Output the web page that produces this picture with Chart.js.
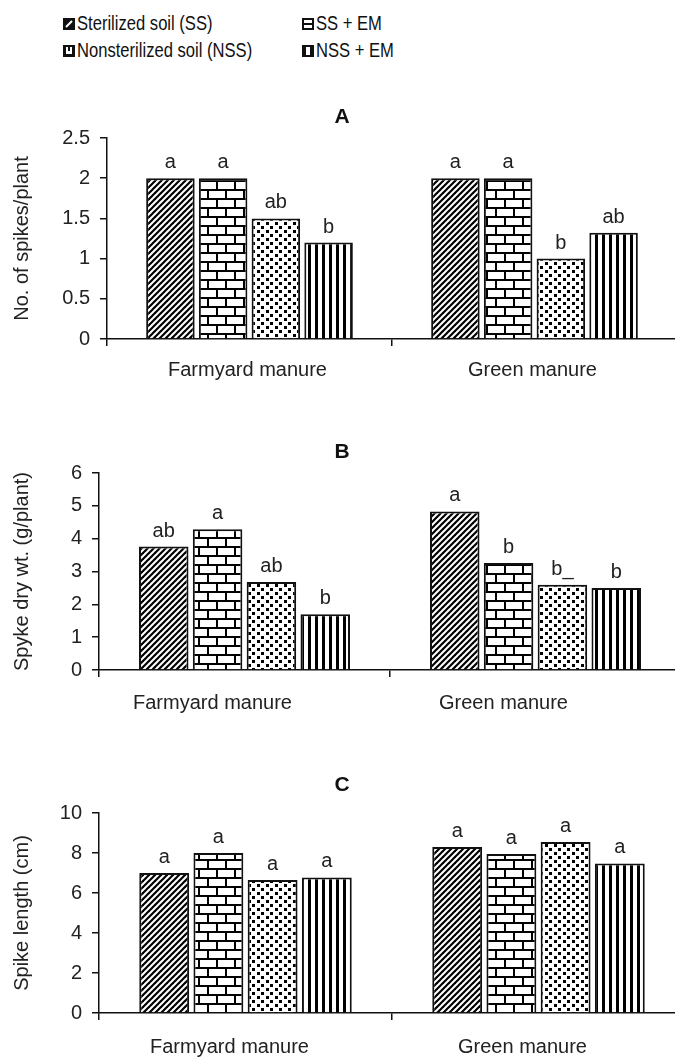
<!DOCTYPE html>
<html>
<head>
<meta charset="utf-8">
<script src="https://cdn.jsdelivr.net/npm/chart.js@4.4.1/dist/chart.umd.min.js"></script>
<style>
  html, body { margin: 0; padding: 0; background: #fff; width: 675px; height: 1057px; overflow: hidden; position: relative; }
  canvas { position: absolute; left: 0; }
  #legend { position: absolute; left: 63px; top: 10px; font: 21px "Liberation Sans", Arial, sans-serif; color: #111; }
  .item { position: absolute; white-space: nowrap; height: 26px; line-height: 26px; }
  .item canvas { position: static; vertical-align: 0px; margin-right: 2px; }
  .item span { display: inline-block; transform: scaleX(0.79); transform-origin: left center; }
</style>
</head>
<body>
<div id="legend"></div>
<canvas id="chartA" width="690" height="300" style="top:90px"></canvas>
<canvas id="chartB" width="690" height="300" style="top:420px"></canvas>
<canvas id="chartC" width="690" height="297" style="top:760px"></canvas>
<script>
var groups = ["Farmyard manure", "Green manure"];
var treatments = ["Sterilized soil (SS)", "SS + EM", "Nonsterilized soil (NSS)", "NSS + EM"];

// A - no. of spikes per plant
var spikesSS = [2.0, 2.0];
var spikesSSEM = [2.0, 2.0];
var spikesNSS = [1.5, 1.0];
var spikesNSSEM = [1.2, 1.32];
var spikesLetters = [["a", "a"], ["a", "a"], ["ab", "b"], ["b", "ab"]];
var spikesTicks = [0, 0.5, 1, 1.5, 2, 2.5];

// B - spike dry weight
var dryWtSS = [3.76, 4.83];
var dryWtSSEM = [4.29, 3.26];
var dryWtNSS = [2.68, 2.6];
var dryWtNSSEM = [1.7, 2.5];
var dryWtLetters = [["ab", "a"], ["a", "b"], ["ab", "b_"], ["b", "b"]];
var dryWtTicks = [0, 1, 2, 3, 4, 5, 6];

// C - spike length
var lengthSS = [7.0, 8.3];
var lengthSSEM = [8.0, 7.95];
var lengthNSS = [6.65, 8.55];
var lengthNSSEM = [6.78, 7.48];
var lengthLetters = [["a", "a"], ["a", "a"], ["a", "a"], ["a", "a"]];
var lengthTicks = [0, 2, 4, 6, 8, 10];

var FONT = '"Liberation Sans", Arial, sans-serif';
Chart.defaults.font.family = FONT;
Chart.defaults.color = '#222';

function makePattern(kind) {
  var c = document.createElement('canvas');
  var g = c.getContext('2d');
  if (kind == 'diag') {
    c.width = 6; c.height = 6;
    g.fillStyle = '#fff'; g.fillRect(0, 0, 6, 6);
    g.strokeStyle = '#000'; g.lineWidth = 2.2;
    [[0, 6, 6, 0], [-2, 2, 2, -2], [4, 8, 8, 4]].forEach(function (l) {
      g.beginPath(); g.moveTo(l[0], l[1]); g.lineTo(l[2], l[3]); g.stroke();
    });
  } else if (kind == 'brick') {
    c.width = 18; c.height = 18;
    g.fillStyle = '#fff'; g.fillRect(0, 0, 18, 18);
    g.fillStyle = '#000';
    g.fillRect(0, 0, 18, 2); g.fillRect(0, 9, 18, 2);
    g.fillRect(0, 0, 2, 9); g.fillRect(9, 9, 2, 9);
  } else if (kind == 'dots') {
    c.width = 9; c.height = 8;
    g.fillStyle = '#fff'; g.fillRect(0, 0, 9, 8);
    g.fillStyle = '#000';
    g.fillRect(0, 0, 3, 3); g.fillRect(5, 4, 3, 3);
  } else {
    c.width = 7; c.height = 7;
    g.fillStyle = '#fff'; g.fillRect(0, 0, 7, 7);
    g.fillStyle = '#000'; g.fillRect(0, 0, 3, 7);
  }
  return g.createPattern(c, 'repeat');
}
var kinds = ['diag', 'brick', 'dots', 'vert'];
var fills = kinds.map(makePattern);

// legend (2 x 2)
function icon(kind) {
  var c = document.createElement('canvas');
  c.width = 12; c.height = 12;
  var g = c.getContext('2d');
  g.fillStyle = '#111'; g.fillRect(0, 0, 12, 12);
  g.fillStyle = '#fff'; g.strokeStyle = '#fff';
  if (kind == 'diag') {
    g.lineWidth = 2; g.beginPath(); g.moveTo(3, 9); g.lineTo(9, 3); g.stroke();
  } else if (kind == 'brick') {
    g.fillRect(2, 2, 8, 3); g.fillRect(2, 7, 8, 3);
  } else if (kind == 'dots') {
    g.fillRect(3, 2, 6, 7); g.fillStyle = '#111'; g.fillRect(5, 2, 2, 4);
  } else {
    g.fillRect(4, 2, 4, 8);
  }
  return c;
}
var legend = document.getElementById('legend');
treatments.forEach(function (t, i) {
  var d = document.createElement('div');
  d.className = 'item';
  d.style.left = (i % 2 ? 239 : 0) + 'px';
  d.style.top = (i < 2 ? 0 : 27) + 'px';
  d.appendChild(icon(kinds[i]));
  var s = document.createElement('span');
  s.textContent = t;
  d.appendChild(s);
  legend.appendChild(d);
});

var annot = {
  id: 'annot',
  afterDatasetsDraw: function (chart, args, opts) {
    var ctx = chart.ctx;
    ctx.save();
    ctx.fillStyle = '#222';
    ctx.textAlign = 'center';
    ctx.textBaseline = 'alphabetic';
    ctx.font = '20px ' + FONT;
    opts.letters.forEach(function (arr, di) {
      chart.getDatasetMeta(di).data.forEach(function (bar, i) {
        ctx.fillText(arr[i], bar.x, bar.y - 10);
      });
    });
    ctx.fillStyle = '#111';
    ctx.textBaseline = 'middle';
    ctx.font = 'bold 21px ' + FONT;
    ctx.fillText(opts.panel, 342, opts.panelY);
    ctx.restore();
  }
};

function panel(id, series, letters, ticks, yTitle, cfg) {
  return new Chart(document.getElementById(id), {
    type: 'bar',
    data: {
      labels: groups,
      datasets: series.map(function (s, i) {
        return {
          label: treatments[i], data: s,
          backgroundColor: fills[i], borderColor: '#111', borderWidth: 2,
          categoryPercentage: 0.74, barPercentage: 0.92
        };
      })
    },
    options: {
      responsive: false, animation: false,
      layout: { padding: { top: cfg.top, right: cfg.right, left: 0, bottom: 0 } },
      plugins: {
        legend: { display: false }, tooltip: { enabled: false },
        annot: { letters: letters, panel: cfg.panel, panelY: cfg.panelY }
      },
      scales: {
        x: {
          grid: { display: true, drawOnChartArea: false, drawTicks: true, tickLength: 7, color: '#111', lineWidth: 1.5 },
          border: { display: true, color: '#111', width: 1.5 },
          ticks: { font: { size: 20 }, padding: cfg.xPad, labelOffset: cfg.labelOffset, color: '#222' },
          afterFit: function (s) { s.height = cfg.xH; }
        },
        y: {
          min: ticks[0], max: ticks[ticks.length - 1],
          afterBuildTicks: function (s) { s.ticks = ticks.map(function (v) { return { value: v }; }); },
          grid: { display: true, drawOnChartArea: false, drawTicks: true, tickLength: 7, color: '#111', lineWidth: 1.5 },
          border: { display: true, color: '#111', width: 1.5 },
          ticks: { font: { size: 20 }, padding: 10, color: '#222', callback: function (v) { return String(v); } },
          title: { display: true, text: yTitle, font: { size: 20 }, padding: { top: 10, bottom: 0 }, color: '#222' },
          afterFit: function (s) { s.width = cfg.yW; }
        }
      }
    },
    plugins: [annot]
  });
}

panel('chartA', [spikesSS, spikesSSEM, spikesNSS, spikesNSSEM], spikesLetters, spikesTicks, 'No. of spikes/plant',
  { top: 48, right: 13, yW: 107, xH: 51, xPad: 12, labelOffset: -2, panel: 'A', panelY: 27 });
panel('chartB', [dryWtSS, dryWtSSEM, dryWtNSS, dryWtNSSEM], dryWtLetters, dryWtTicks, 'Spyke dry wt. (g/plant)',
  { top: 53, right: 9, yW: 99, xH: 50, xPad: 14, labelOffset: -32, panel: 'B', panelY: 32 });
panel('chartC', [lengthSS, lengthSSEM, lengthNSS, lengthNSSEM], lengthLetters, lengthTicks, 'Spike length (cm)',
  { top: 53, right: 5, yW: 99, xH: 44, xPad: 15, labelOffset: -16, panel: 'C', panelY: 25 });
</script>
</body>
</html>
